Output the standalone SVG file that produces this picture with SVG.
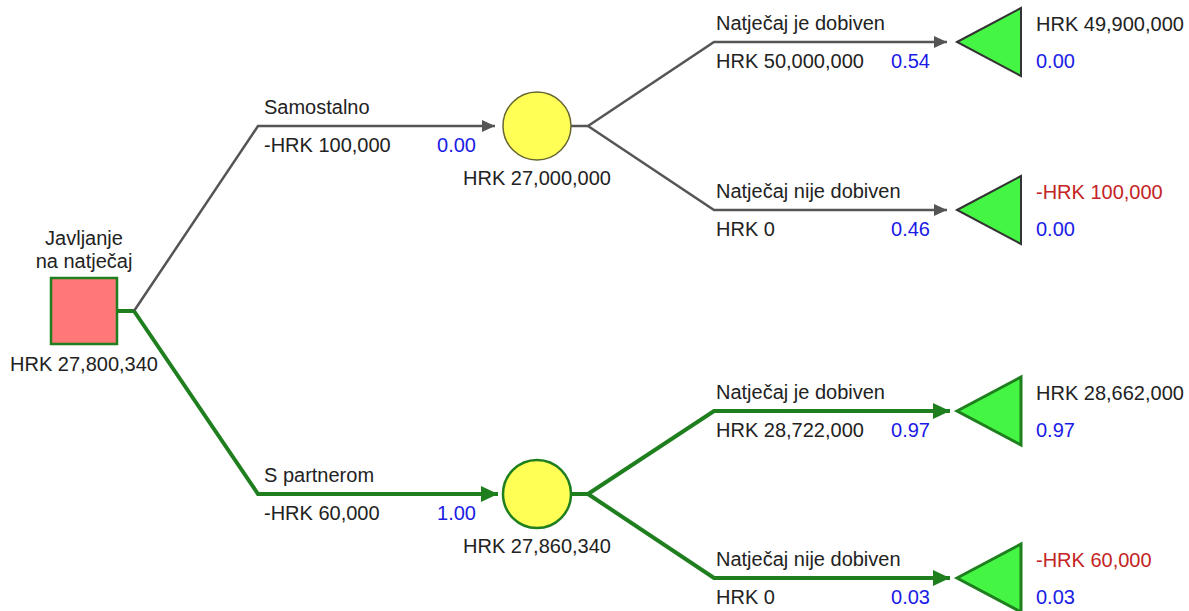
<svg xmlns="http://www.w3.org/2000/svg" width="1189" height="611" viewBox="0 0 1189 611">
<defs>
<style>
text{font-family:"Liberation Sans",Arial,sans-serif;font-size:20px;fill:#222}
.b{fill:#1a1ae6}
.r{fill:#c42424}
.e{text-anchor:end}
.m{text-anchor:middle}
.g{fill:none;stroke:#555;stroke-width:2.5;stroke-linejoin:miter}
.k{fill:none;stroke:#1f7f1f;stroke-width:4;stroke-linejoin:miter}
.tg{fill:#44f544;stroke:#333;stroke-width:2}
.tk{fill:#44f544;stroke:#1f7f1f;stroke-width:3}
</style>
<marker id="ag" markerUnits="userSpaceOnUse" markerWidth="14" markerHeight="12" refX="13" refY="6" orient="auto"><path d="M0,0 L13,6 L0,12 Z" fill="#555"/></marker>
<marker id="ak" markerUnits="userSpaceOnUse" markerWidth="18" markerHeight="16" refX="17" refY="8" orient="auto"><path d="M0,0 L17,8 L0,16 Z" fill="#1f7f1f"/></marker>
</defs>
<g id="connectors">
<polyline class="k" points="117,311 134,311"/>
<polyline class="g" points="134,311 258,126 495,126" marker-end="url(#ag)"/>
<polyline class="k" points="134,311 258,494 498,494" marker-end="url(#ak)"/>
<polyline class="g" points="571,126 588,126"/>
<polyline class="g" points="588,126 714,42 947,42" marker-end="url(#ag)"/>
<polyline class="g" points="588,126 714,210 947,210" marker-end="url(#ag)"/>
<polyline class="k" points="571,494 588,494"/>
<polyline class="k" points="588,494 714,411 950,411" marker-end="url(#ak)"/>
<polyline class="k" points="588,494 714,578 950,578" marker-end="url(#ak)"/>
</g>
<g id="edge-labels">
<text x="264" y="114">Samostalno</text>
<text x="264" y="152">-HRK 100,000</text>
<text class="b e" x="476" y="152">0.00</text>
<text x="264" y="482">S partnerom</text>
<text x="264" y="520">-HRK 60,000</text>
<text class="b e" x="476" y="520">1.00</text>
<text x="716" y="30">Natječaj je dobiven</text>
<text x="716" y="68">HRK 50,000,000</text>
<text class="b e" x="930" y="68">0.54</text>
<text x="716" y="198">Natječaj nije dobiven</text>
<text x="716" y="236">HRK 0</text>
<text class="b e" x="930" y="236">0.46</text>
<text x="716" y="399">Natječaj je dobiven</text>
<text x="716" y="437">HRK 28,722,000</text>
<text class="b e" x="930" y="437">0.97</text>
<text x="716" y="566">Natječaj nije dobiven</text>
<text x="716" y="604">HRK 0</text>
<text class="b e" x="930" y="604">0.03</text>
</g>
<g id="decision">
<text class="m" x="84" y="245">Javljanje</text>
<text class="m" x="84" y="268">na natječaj</text>
<rect x="51" y="278" width="66" height="66" fill="#ff7777" stroke="#1f7f1f" stroke-width="2.5"/>
<text class="m" x="84" y="371">HRK 27,800,340</text>
</g>
<g id="chance1">
<circle cx="537" cy="126" r="34" fill="#ffff55" stroke="#666633" stroke-width="1.5"/>
<text class="m" x="537" y="185">HRK 27,000,000</text>
</g>
<g id="chance2">
<circle cx="537" cy="494" r="34" fill="#ffff55" stroke="#1f7f1f" stroke-width="2.5"/>
<text class="m" x="537" y="553">HRK 27,860,340</text>
</g>
<g id="end1">
<polygon class="tg" points="957,42 1021,8 1021,76"/>
<text x="1036" y="31">HRK 49,900,000</text>
<text class="b" x="1036" y="68">0.00</text>
</g>
<g id="end2">
<polygon class="tg" points="957,210 1021,176 1021,244"/>
<text class="r" x="1036" y="199">-HRK 100,000</text>
<text class="b" x="1036" y="236">0.00</text>
</g>
<g id="end3">
<polygon class="tk" points="957,411 1021,377 1021,445"/>
<text x="1036" y="400">HRK 28,662,000</text>
<text class="b" x="1036" y="437">0.97</text>
</g>
<g id="end4">
<polygon class="tk" points="957,578 1021,544 1021,612"/>
<text class="r" x="1036" y="567">-HRK 60,000</text>
<text class="b" x="1036" y="604">0.03</text>
</g>
</svg>
